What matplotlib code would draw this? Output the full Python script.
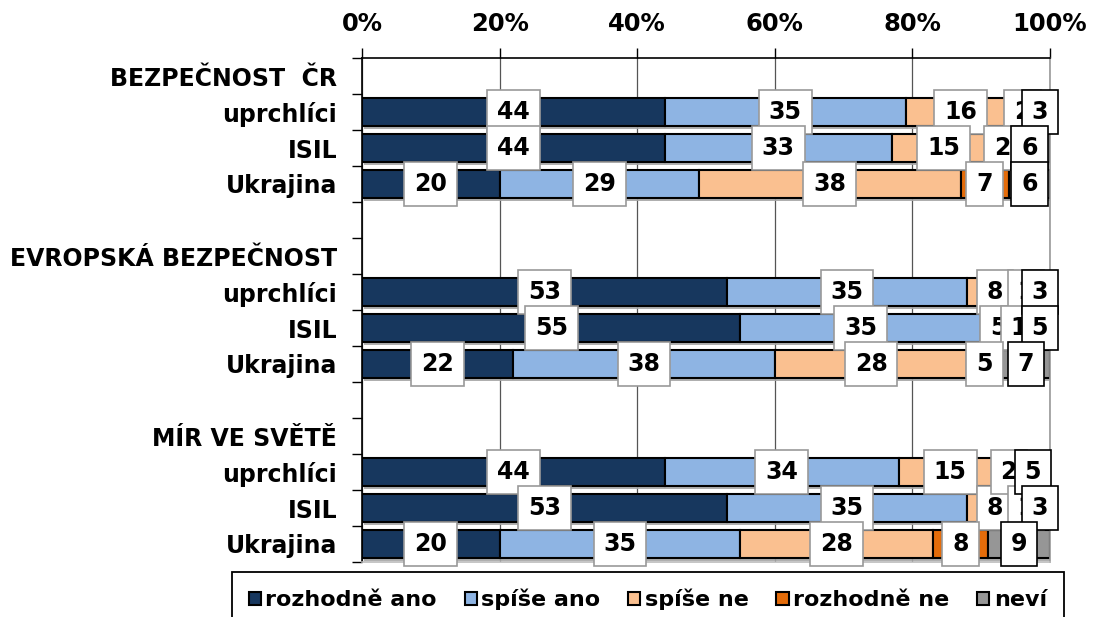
import matplotlib
matplotlib.use("Agg")
import matplotlib.pyplot as plt
import matplotlib.patheffects as pe
from matplotlib.patches import Patch

# data
groups = ["BEZPEČNOST  ČR", "EVROPSKÁ BEZPEČNOST", "MÍR VE SVĚTĚ"]
items = ["uprchlíci", "ISIL", "Ukrajina"]
series_names = ["rozhodně ano", "spíše ano", "spíše ne", "rozhodně ne", "neví"]
series_colors = ["#17375E", "#8EB4E3", "#FAC090", "#E46C0A", "#969696"]

rozhodne_ano = [44, 44, 20, 53, 55, 22, 44, 53, 20]
spise_ano = [35, 33, 29, 35, 35, 38, 34, 35, 35]
spise_ne = [16, 15, 38, 8, 5, 28, 15, 8, 28]
rozhodne_ne = [2, 2, 7, 1, 1, 5, 2, 1, 8]
nevi = [3, 6, 6, 3, 5, 7, 5, 3, 9]
x_ticks = [0, 20, 40, 60, 80, 100]

plt.rcParams["font.family"] = ["DejaVu Sans"]
plt.rcParams["font.weight"] = "bold"

fig = plt.figure(figsize=(10.94, 6.17), dpi=100)
ax = fig.add_axes([362 / 1094, 1 - 562 / 617, 688 / 1094, 504 / 617])

# row layout: header, three items, blank row between groups
labels, data_rows = [], []
row = 0
for gi, g in enumerate(groups):
    labels.append((row, g))
    row += 1
    for ii, it in enumerate(items):
        labels.append((row, it))
        data_rows.append(row)
        row += 1
    row += 1
n_rows = row - 1

series = [rozhodne_ano, spise_ano, spise_ne, rozhodne_ne, nevi]
left = [0] * len(data_rows)
shadow = [pe.SimplePatchShadow(offset=(1.5, -2), shadow_rgbFace="0.65", alpha=0.9), pe.Normal()]
for si, vals in enumerate(series):
    ax.barh(data_rows, vals, left=left, height=0.8, color=series_colors[si],
            edgecolor="black", linewidth=1.5, zorder=2, path_effects=shadow)
    for r, l, v in zip(data_rows, left, vals):
        ax.text(l + v / 2, r, str(v), ha="center", va="center", fontsize=17,
                fontweight="bold", zorder=5, clip_on=False,
                bbox=dict(boxstyle="square,pad=0.42", fc="white",
                          ec="black" if si == 4 else "#999999", lw=1.2))
    left = [a + b for a, b in zip(left, vals)]

ax.set_xlim(0, 100)
ax.set_ylim(n_rows - 0.5, -0.5)

ax.xaxis.tick_top()
ax.set_xticks(x_ticks)
ax.set_xticklabels([f"{t}%" for t in x_ticks], fontsize=17.5, fontweight="bold")
ax.tick_params(axis="x", direction="out", length=7, width=1, pad=9)
ax.grid(axis="x", color="#555555", linewidth=0.9, zorder=0)
ax.set_axisbelow(True)

# boundary ticks on the y axis, labels at row centers
ax.set_yticks([i - 0.5 for i in range(n_rows + 1)])
ax.set_yticklabels([])
ax.tick_params(axis="y", which="major", direction="out", length=7, width=1)
ax.set_yticks([r for r, _ in labels], [t for _, t in labels], minor=True)
ax.tick_params(axis="y", which="minor", length=0, pad=18, labelsize=17)
for t in ax.get_yticklabels(minor=True):
    t.set_fontweight("bold")

ax.spines["left"].set_color("black")
ax.spines["top"].set_color("black")
ax.spines["right"].set_color("#999999")
ax.spines["bottom"].set_color("#bbbbbb")
for s in ax.spines.values():
    s.set_linewidth(1.2)

handles = [Patch(facecolor=c, edgecolor="black", linewidth=1.5) for c in series_colors]
leg = fig.legend(handles, series_names, loc="upper left", ncol=5,
                 bbox_to_anchor=(232 / 1094, 1 - 572 / 617), borderaxespad=0,
                 fancybox=False, framealpha=1, edgecolor="black",
                 prop=dict(size=16, weight="bold"), handlelength=0.55,
                 handleheight=0.55, handletextpad=0.2, columnspacing=1.25,
                 borderpad=0.75)
leg.get_frame().set_linewidth(1.3)

fig.savefig("out.png", dpi=100)
